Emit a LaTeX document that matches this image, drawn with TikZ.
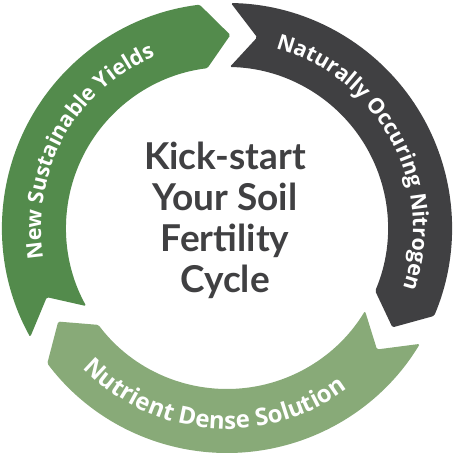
\documentclass[tikz,border=0pt]{standalone}
\usepackage{fontspec}
\setmainfont{Lato}
\newfontfamily\labfamily{Open Sans}
\usetikzlibrary{decorations.text}
\definecolor{segGreen}{HTML}{538B4C}
\definecolor{segDark}{HTML}{404042}
\definecolor{segLight}{HTML}{88AA78}
\definecolor{txtDark}{HTML}{404042}
\newcommand{\labfont}{\labfamily\bfseries\fontsize{21.5pt}{22pt}\selectfont}
\newcommand{\labfontb}{\labfamily\bfseries\fontsize{24pt}{24pt}\selectfont}
\newcommand{\segpath}[1]{%
  (#1:225pt) arc[start angle=#1, end angle=#1-112, radius=225pt]
  -- (#1-120:193pt)
  -- (#1-112:161pt) arc[start angle=#1-112, end angle=#1, radius=161pt]
  -- (#1-8:193pt) -- cycle}
\begin{document}
\begin{tikzpicture}[x=1pt,y=1pt,
  segshape/.style={line join=round, rounded corners=1.5pt}]
\useasboundingbox (0,0) rectangle (455,455);
\begin{scope}[shift={(227pt,227pt)}]
  \fill[segGreen, segshape] \segpath{209};
  \fill[segDark, segshape] \segpath{89};
  \fill[segLight, segshape] \segpath{-31};
  \path[decorate, decoration={text along path, text align=center,
     text={|\color{white}\labfont|New Sustainable Yields}}]
     (216:186pt) arc[start angle=216, end angle=86, radius=186pt];
  \path[decorate, decoration={text along path, text align=center,
     text={|\color{white}\labfont|Naturally Occuring Nitrogen}}]
     (93:186pt) arc[start angle=93, end angle=-37, radius=186pt];
  \path[decorate, decoration={text along path, text align=center,
     text={|\color{white}\labfontb|Nutrient Dense Solution}}]
     (200:201pt) arc[start angle=200, end angle=331, radius=201pt];
\end{scope}
\node[text=txtDark, font=\bfseries\fontsize{37pt}{41pt}\selectfont, align=center]
  (title) at (225,235) {Kick-start\\Your Soil\\Fertility\\Cycle};
\end{tikzpicture}
\end{document}
